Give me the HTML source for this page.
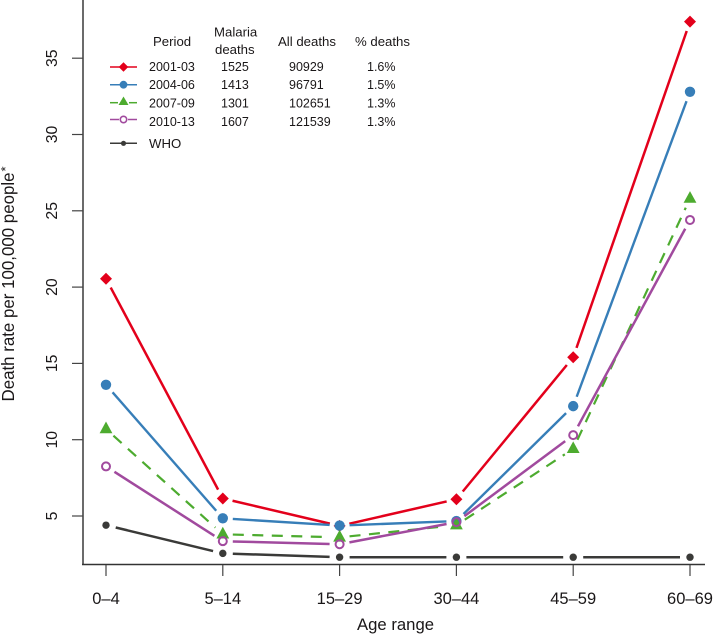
<!DOCTYPE html>
<html>
<head>
<meta charset="utf-8">
<title>Death rate by age range</title>
<style>
html,body{margin:0;padding:0;background:#fff;width:714px;height:635px;overflow:hidden}
svg{display:block}
text{font-family:"Liberation Sans",sans-serif;fill:#1a1718}
.lg{font-size:12.5px}
.lh{font-size:13.2px}
.tx{font-size:16.5px}
.ty{font-size:15.8px}
</style>
</head>
<body>
<svg id="chart" xmlns="http://www.w3.org/2000/svg" width="714" height="635" viewBox="0 0 714 635">
  <rect x="0" y="0" width="714" height="635" fill="#fff"/>
  <g id="axes">
    <line x1="83" y1="0" x2="83" y2="565" stroke="#6b6b6b" stroke-width="2"/>
    <line x1="82" y1="564.5" x2="705" y2="564.5" stroke="#333" stroke-width="1.4"/>
  </g>
  <text x="395.5" y="630" text-anchor="middle" font-size="17" textLength="77" lengthAdjust="spacingAndGlyphs">Age range</text>
  <text transform="translate(14 401.5) rotate(-90)" font-size="17.5" textLength="229" lengthAdjust="spacingAndGlyphs">Death rate per 100,000 people</text>
  <text transform="translate(10 171.5) rotate(-90)" font-size="13">*</text>
  <g id="series"></g>

  <g>
    <text class="lh" x="153" y="46">Period</text>
    <text class="lh" x="214" y="36.5">Malaria</text>
    <text class="lh" x="215" y="54">deaths</text>
    <text class="lh" x="278" y="46">All deaths</text>
    <text class="lh" x="355" y="46">% deaths</text>

    <g>
      <line x1="110" y1="67" x2="137" y2="67" stroke="#e3001b" stroke-width="1.5"/>
      <path d="M123.5 62.2 L128.3 67 L123.5 71.8 L118.7 67 Z" fill="#e3001b"/>
      <text class="lg" x="149" y="71">2001-03</text>
      <text class="lg" x="221" y="71">1525</text>
      <text class="lg" x="289" y="71">90929</text>
      <text class="lg" x="367" y="71">1.6%</text>
    </g>
    <g>
      <line x1="110" y1="84.7" x2="137" y2="84.7" stroke="#377eb8" stroke-width="1.5"/>
      <circle cx="123.5" cy="84.7" r="3.9" fill="#377eb8"/>
      <text class="lg" x="149" y="89">2004-06</text>
      <text class="lg" x="221" y="89">1413</text>
      <text class="lg" x="289" y="89">96791</text>
      <text class="lg" x="367" y="89">1.5%</text>
    </g>
    <g>
      <line x1="110" y1="102.7" x2="137" y2="102.7" stroke="#4dab2f" stroke-width="1.5" stroke-dasharray="8 19"/>
      <line x1="129" y1="102.7" x2="137" y2="102.7" stroke="#4dab2f" stroke-width="1.5"/>
      <path d="M123.5 96.5 L128.5 105 L118.5 105 Z" fill="#4dab2f"/>
      <text class="lg" x="149" y="107.5">2007-09</text>
      <text class="lg" x="221" y="107.5">1301</text>
      <text class="lg" x="289" y="107.5">102651</text>
      <text class="lg" x="367" y="107.5">1.3%</text>
    </g>
    <g>
      <line x1="110" y1="119.5" x2="119" y2="119.5" stroke="#a14a9e" stroke-width="1.5"/>
      <line x1="128" y1="119.5" x2="137" y2="119.5" stroke="#a14a9e" stroke-width="1.5"/>
      <circle cx="123.5" cy="119.5" r="3.2" fill="none" stroke="#a14a9e" stroke-width="1.6"/>
      <text class="lg" x="149" y="126">2010-13</text>
      <text class="lg" x="221" y="126">1607</text>
      <text class="lg" x="289" y="126">121539</text>
      <text class="lg" x="367" y="126">1.3%</text>
    </g>
    <g>
      <line x1="110" y1="143.3" x2="137" y2="143.3" stroke="#3a3a38" stroke-width="1.5"/>
      <circle cx="123.5" cy="143.3" r="2.6" fill="#3a3a38"/>
      <text class="lh" x="149" y="148">WHO</text>
    </g>
  </g>
</svg>
<script>
const ageRanges = ['0–4', '5–14', '15–29', '30–44', '45–59', '60–69'];
const yTickValues = [5, 10, 15, 20, 25, 30, 35];
const rate2001 = [20.55, 6.15, 4.35, 6.1, 15.4, 37.4];
const rate2004 = [13.6, 4.85, 4.37, 4.67, 12.2, 32.8];
const rate2007 = [10.7, 3.8, 3.6, 4.4, 9.4, 25.8];
const rate2010 = [8.25, 3.35, 3.15, 4.6, 10.3, 24.4];
const rateWho = [4.4, 2.55, 2.3, 2.3, 2.3, 2.3];

const NS = 'http://www.w3.org/2000/svg';
const xScale = function (i) { return 106 + i * 116.8; };
const yScale = function (v) { return 516 - (v - 5) * 15.26; };
const GAP = 10;
const axes = document.getElementById('axes');
const seriesGroup = document.getElementById('series');

function make(tag, attrs, parent) {
  const el = document.createElementNS(NS, tag);
  Object.keys(attrs).forEach(function (k) { el.setAttribute(k, attrs[k]); });
  parent.appendChild(el);
  return el;
}

ageRanges.forEach(function (label, i) {
  const tick = make('line', { x1: xScale(i), x2: xScale(i), y1: 565, y2: 576, stroke: '#444', 'stroke-width': 1.2 }, axes);
  
  
  const t = make('text', { x: xScale(i), y: 604, 'text-anchor': 'middle', class: 'tx' }, axes);
  t.textContent = label;
  
  
});

yTickValues.forEach(function (v) {
  const tick = make('line', { x1: 72, x2: 83, y1: yScale(v), y2: yScale(v), stroke: '#444', 'stroke-width': 1.2 }, axes);
  
  
  const t = make('text', { transform: 'translate(57 ' + yScale(v) + ') rotate(-90)', 'text-anchor': 'middle', class: 'ty' }, axes);
  t.textContent = String(v);
  
  
});

function drawSeries(name, values, color, width, dash, markerFn) {
  const g = make('g', {}, seriesGroup);
  
  
  for (let i = 0; i < values.length - 1; i++) {
    const x1 = xScale(i), y1 = yScale(values[i]);
    const x2 = xScale(i + 1), y2 = yScale(values[i + 1]);
    const len = Math.hypot(x2 - x1, y2 - y1);
    const ux = (x2 - x1) / len, uy = (y2 - y1) / len;
    const attrs = { x1: x1 + ux * GAP, y1: y1 + uy * GAP, x2: x2 - ux * GAP, y2: y2 - uy * GAP, stroke: color, 'stroke-width': width };
    if (dash) attrs['stroke-dasharray'] = dash;
    const seg = make('line', attrs, g);
    
    
  }
  values.forEach(function (v, i) {
    const m = markerFn(xScale(i), yScale(v), g, color);
    
    
  });
}

function diamond(x, y, g, c) {
  return make('path', { d: 'M' + x + ' ' + (y - 6) + 'L' + (x + 6) + ' ' + y + 'L' + x + ' ' + (y + 6) + 'L' + (x - 6) + ' ' + y + 'Z', fill: c }, g);
}
function disc(x, y, g, c) {
  return make('circle', { cx: x, cy: y, r: 5.2, fill: c }, g);
}
function triangle(x, y, g, c) {
  return make('path', { d: 'M' + x + ' ' + (y - 7.5) + 'L' + (x + 6.4) + ' ' + (y + 4.2) + 'L' + (x - 6.4) + ' ' + (y + 4.2) + 'Z', fill: c }, g);
}
function ring(x, y, g, c) {
  return make('circle', { cx: x, cy: y, r: 4, fill: 'none', stroke: c, 'stroke-width': 2 }, g);
}
function dot(x, y, g, c) {
  return make('circle', { cx: x, cy: y, r: 3.7, fill: c }, g);
}

drawSeries('who', rateWho, '#3a3a38', 2.5, null, dot);
drawSeries('2001-03', rate2001, '#e3001b', 2.5, null, diamond);
drawSeries('2004-06', rate2004, '#377eb8', 2.4, null, disc);
drawSeries('2007-09', rate2007, '#4dab2f', 2.2, '11 8.5', triangle);
drawSeries('2010-13', rate2010, '#a14a9e', 2.5, null, ring);
</script>
</body>
</html>
